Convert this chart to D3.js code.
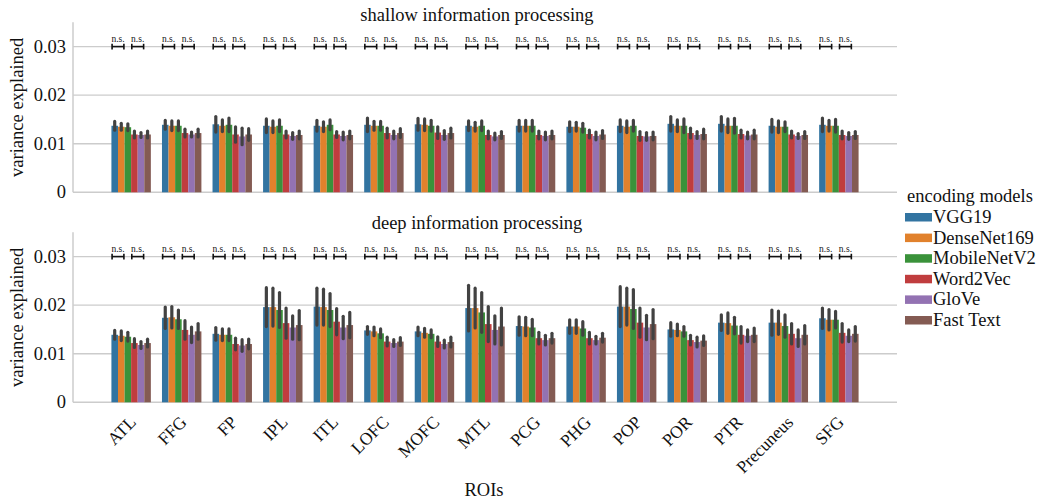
<!DOCTYPE html>
<html><head><meta charset="utf-8">
<script src="https://cdn.jsdelivr.net/npm/d3@7"></script>
<style>body{margin:0;background:#fff}</style>
</head><body><svg id="c" width="1042" height="502" font-family="'Liberation Serif', 'Times New Roman', Times, 'DejaVu Serif', serif"></svg>
<script>
const categories = ["ATL","FFG","FP","IPL","ITL","LOFC","MOFC","MTL","PCG","PHG","POP","POR","PTR","Precuneus","SFG"];
const models = ["VGG19","DenseNet169","MobileNetV2","Word2Vec","GloVe","Fast Text"];
const colors = ["#3274a1","#e1812c","#3a923a","#c03d3e","#9372b2","#845b53"];
const yTicks = [0, 0.01, 0.02, 0.03];
const yTickLabels = ["0", "0.01", "0.02", "0.03"];
const panelTitles = ["shallow information processing", "deep information processing"];
const sigLabel = "n.s.";
const sigLevel = 0.03;

// shallow information processing: means and CI half-widths
const shallowVGG19 = [0.0137,0.0139,0.0140,0.0137,0.0137,0.0139,0.0140,0.0137,0.0137,0.0135,0.0137,0.0141,0.0141,0.0137,0.0139];
const shallowVGG19Err = [0.0009,0.0009,0.0016,0.0014,0.0011,0.0014,0.0012,0.0010,0.0011,0.0010,0.0012,0.0015,0.0015,0.0013,0.0014];
const shallowDenseNet169 = [0.0135,0.0137,0.0137,0.0135,0.0135,0.0137,0.0139,0.0135,0.0137,0.0135,0.0135,0.0137,0.0137,0.0135,0.0137];
const shallowDenseNet169Err = [0.0007,0.0010,0.0012,0.0012,0.0010,0.0009,0.0012,0.0009,0.0011,0.0009,0.0012,0.0012,0.0014,0.0012,0.0011];
const shallowMobileNetV2 = [0.0134,0.0137,0.0139,0.0137,0.0139,0.0137,0.0137,0.0137,0.0137,0.0133,0.0137,0.0137,0.0137,0.0135,0.0137];
const shallowMobileNetV2Err = [0.0007,0.0010,0.0014,0.0012,0.0010,0.0009,0.0011,0.0010,0.0011,0.0009,0.0011,0.0014,0.0015,0.0010,0.0013];
const shallowWord2Vec = [0.0119,0.0122,0.0119,0.0119,0.0119,0.0122,0.0123,0.0118,0.0118,0.0120,0.0116,0.0122,0.0120,0.0119,0.0118];
const shallowWord2VecErr = [0.0007,0.0008,0.0016,0.0007,0.0006,0.0010,0.0012,0.0008,0.0008,0.0008,0.0009,0.0010,0.0008,0.0007,0.0008];
const shallowGloVe = [0.0118,0.0119,0.0115,0.0116,0.0116,0.0118,0.0118,0.0115,0.0116,0.0116,0.0115,0.0118,0.0117,0.0116,0.0116];
const shallowGloVeErr = [0.0005,0.0005,0.0017,0.0007,0.0008,0.0008,0.0009,0.0007,0.0008,0.0008,0.0008,0.0007,0.0007,0.0005,0.0007];
const shallowFastText = [0.0119,0.0122,0.0119,0.0118,0.0118,0.0122,0.0122,0.0118,0.0118,0.0119,0.0116,0.0120,0.0119,0.0118,0.0118];
const shallowFastTextErr = [0.0007,0.0008,0.0012,0.0008,0.0008,0.0009,0.0010,0.0007,0.0008,0.0008,0.0008,0.0010,0.0009,0.0007,0.0007];

// deep information processing
const deepVGG19 = [0.0139,0.0174,0.0141,0.0196,0.0197,0.0148,0.0146,0.0194,0.0157,0.0156,0.0197,0.0150,0.0164,0.0164,0.0173];
const deepVGG19Err = [0.0009,0.0022,0.0013,0.0040,0.0038,0.0008,0.0009,0.0047,0.0019,0.0014,0.0041,0.0014,0.0016,0.0026,0.0021];
const deepDenseNet169 = [0.0137,0.0175,0.0139,0.0196,0.0196,0.0146,0.0143,0.0194,0.0156,0.0156,0.0197,0.0149,0.0163,0.0164,0.0170];
const deepDenseNet169Err = [0.0010,0.0022,0.0012,0.0039,0.0037,0.0009,0.0009,0.0041,0.0019,0.0014,0.0038,0.0012,0.0021,0.0024,0.0021];
const deepMobileNetV2 = [0.0135,0.0171,0.0139,0.0190,0.0190,0.0142,0.0141,0.0185,0.0154,0.0152,0.0192,0.0146,0.0158,0.0157,0.0170];
const deepMobileNetV2Err = [0.0009,0.0019,0.0012,0.0036,0.0034,0.0009,0.0008,0.0041,0.0017,0.0014,0.0040,0.0010,0.0017,0.0023,0.0017];
const deepWord2Vec = [0.0122,0.0149,0.0120,0.0163,0.0166,0.0125,0.0125,0.0161,0.0132,0.0132,0.0164,0.0128,0.0139,0.0141,0.0143];
const deepWord2VecErr = [0.0009,0.0019,0.0012,0.0031,0.0027,0.0009,0.0010,0.0036,0.0012,0.0012,0.0030,0.0010,0.0017,0.0021,0.0019];
const deepGloVe = [0.0118,0.0139,0.0117,0.0154,0.0154,0.0122,0.0120,0.0149,0.0128,0.0128,0.0154,0.0124,0.0137,0.0132,0.0137];
const deepGloVeErr = [0.0007,0.0016,0.0012,0.0024,0.0023,0.0007,0.0008,0.0029,0.0010,0.0008,0.0025,0.0010,0.0012,0.0017,0.0012];
const deepFastText = [0.0122,0.0146,0.0120,0.0159,0.0159,0.0125,0.0124,0.0156,0.0132,0.0133,0.0161,0.0127,0.0139,0.0139,0.0141];
const deepFastTextErr = [0.0008,0.0016,0.0010,0.0030,0.0026,0.0008,0.0010,0.0038,0.0010,0.0009,0.0030,0.0010,0.0014,0.0019,0.0015];

const panels = [
  {title: panelTitles[0],
   means: [shallowVGG19, shallowDenseNet169, shallowMobileNetV2, shallowWord2Vec, shallowGloVe, shallowFastText],
   errs: [shallowVGG19Err, shallowDenseNet169Err, shallowMobileNetV2Err, shallowWord2VecErr, shallowGloVeErr, shallowFastTextErr],
   top: 22.3, bottom: 192.3, titleY: 20.5, showX: false},
  {title: panelTitles[1],
   means: [deepVGG19, deepDenseNet169, deepMobileNetV2, deepWord2Vec, deepGloVe, deepFastText],
   errs: [deepVGG19Err, deepDenseNet169Err, deepMobileNetV2Err, deepWord2VecErr, deepGloVeErr, deepFastTextErr],
   top: 232.3, bottom: 402.3, titleY: 228.5, showX: true}
];

const svg = d3.select("#c");
const left = 73, right = 897;
const FS = 18.5;
const gridColor = "#cccccc";
const ink = "#111";

const x = d3.scaleBand().domain(categories).range([left, right]).paddingInner(0).paddingOuter(0.65);
const xs = d3.scaleBand().domain(models).range([0, x.bandwidth() * 0.78]);
const groupOff = (x.bandwidth() - xs.range()[1]) / 2;

panels.forEach(p => {
  const y = d3.scaleLinear().domain([0, 0.035]).range([p.bottom, p.top]);
  const g = svg.append("g");
  g.selectAll("line.grid").data(yTicks.slice(1)).join("line")
    .attr("x1", left).attr("x2", right)
    .attr("y1", d => y(d)).attr("y2", d => y(d))
    .attr("stroke", gridColor).attr("stroke-width", 1.3);
  g.append("line").attr("x1", left).attr("x2", left).attr("y1", p.top).attr("y2", p.bottom)
    .attr("stroke", gridColor).attr("stroke-width", 1.5);
  g.append("line").attr("x1", left).attr("x2", right).attr("y1", p.bottom).attr("y2", p.bottom)
    .attr("stroke", gridColor).attr("stroke-width", 1.5);
  g.selectAll("text.yt").data(yTicks).join("text")
    .attr("x", left - 7).attr("y", d => y(d)).attr("dy", "0.33em")
    .attr("text-anchor", "end").attr("font-size", FS).attr("fill", ink)
    .text((d, i) => yTickLabels[i]);
  g.append("text")
    .attr("transform", `translate(23,${(p.top + p.bottom) / 2}) rotate(-90)`)
    .attr("text-anchor", "middle").attr("font-size", FS).attr("fill", ink).text("variance explained");
  g.append("text").attr("x", 477).attr("y", p.titleY).attr("text-anchor", "middle")
    .attr("font-size", FS).attr("fill", ink).text(p.title);
  models.forEach((m, mi) => {
    const data = categories.map((c, ci) => ({c, v: p.means[mi][ci], e: p.errs[mi][ci]}));
    g.selectAll(null).data(data).join("rect")
      .attr("x", d => x(d.c) + groupOff + xs(m))
      .attr("width", xs.bandwidth())
      .attr("y", d => y(d.v))
      .attr("height", d => y(0) - y(d.v))
      .attr("fill", colors[mi]);
    g.selectAll(null).data(data).join("line")
      .attr("x1", d => x(d.c) + groupOff + xs(m) + xs.bandwidth() / 2)
      .attr("x2", d => x(d.c) + groupOff + xs(m) + xs.bandwidth() / 2)
      .attr("y1", d => y(d.v - d.e)).attr("y2", d => y(d.v + d.e))
      .attr("stroke", "#424242").attr("stroke-width", 3.2).attr("stroke-linecap", "round");
  });
  const pairs = [[0, 1], [3, 4]];
  categories.forEach(c => {
    pairs.forEach(([a, b]) => {
      const x1 = x(c) + groupOff + xs(models[a]) + xs.bandwidth() * 0.1;
      const x2 = x(c) + groupOff + xs(models[b]) + xs.bandwidth() * 0.9;
      const yy = y(sigLevel);
      const bg = g.append("g");
      bg.append("line").attr("x1", x1).attr("x2", x2).attr("y1", yy).attr("y2", yy)
        .attr("stroke", ink).attr("stroke-width", 1.6);
      [x1, x2].forEach(xx => bg.append("line").attr("x1", xx).attr("x2", xx)
        .attr("y1", yy - 2.8).attr("y2", yy + 2.8).attr("stroke", ink).attr("stroke-width", 1.6));
      bg.append("text").attr("x", (x1 + x2) / 2).attr("y", yy - 4.5)
        .attr("text-anchor", "middle").attr("font-size", 9.5).attr("fill", ink).text(sigLabel);
    });
  });
  if (p.showX) {
    g.selectAll("text.xt").data(categories).join("text")
      .attr("transform", d => `translate(${x(d) + x.bandwidth() / 2 + 6},${p.bottom + 21}) rotate(-45)`)
      .attr("text-anchor", "end").attr("font-size", 17.5).attr("fill", ink).text(d => d);
    g.append("text").attr("x", 484).attr("y", 496).attr("text-anchor", "middle")
      .attr("font-size", FS).attr("fill", ink).text("ROIs");
  }
});

const lg = svg.append("g");
lg.append("text").attr("x", 907).attr("y", 202).attr("font-size", FS).attr("fill", ink).text("encoding models");
models.forEach((m, i) => {
  const by = 223 + i * 20.6;
  lg.append("rect").attr("x", 905).attr("y", by - 10).attr("width", 27).attr("height", 8.5).attr("fill", colors[i]);
  lg.append("text").attr("x", 933).attr("y", by).attr("font-size", FS).attr("fill", ink).text(m);
});
</script></body></html>
